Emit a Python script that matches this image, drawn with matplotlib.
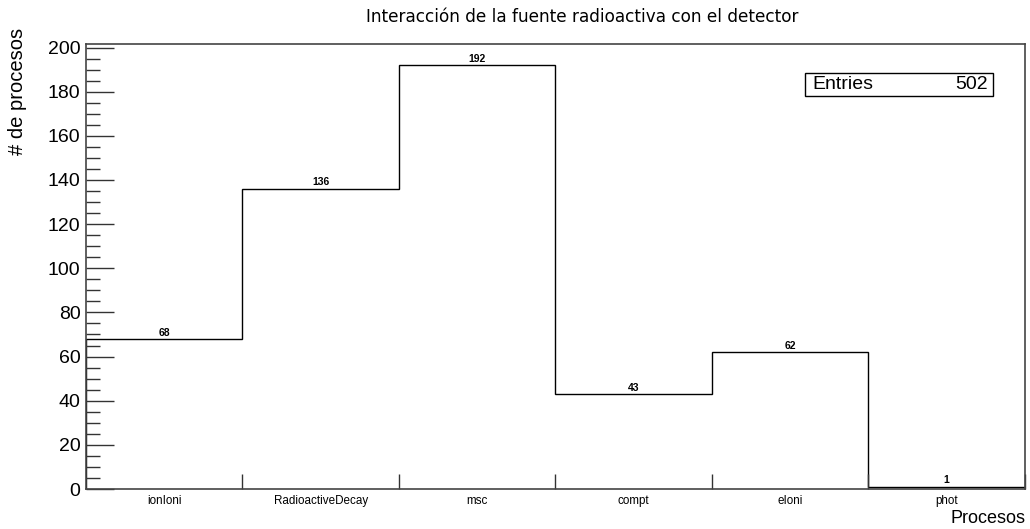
import matplotlib
matplotlib.use("Agg")
import matplotlib.pyplot as plt
import numpy as np
from matplotlib.ticker import MultipleLocator, FixedLocator

# ── Data ─────────────────────────────────────────────────────
PROCESSES = ["ionIoni", "RadioactiveDecay", "msc", "compt", "eIoni", "phot"]
COUNTS    = [68, 136, 192, 43, 62, 1]
ENTRIES   = 502

TITLE  = "Interacción de la fuente radioactiva con el detector"
XTITLE = "Procesos"
YTITLE = "# de procesos"

SANS = "Liberation Sans"

# ── Figure ───────────────────────────────────────────────────
fig = plt.figure(figsize=(10.30, 5.29), dpi=100, facecolor="white")
ax = fig.add_axes([0.0835, 0.0756, 0.9115, 0.8412])

edges = np.arange(len(COUNTS) + 1)
ax.stairs(COUNTS, edges, color="black", linewidth=1.0, baseline=0)

ax.set_xlim(0, len(COUNTS))
ax.set_ylim(0, max(COUNTS) * 1.05)

# bin content labels (ROOT "TEXT" style)
for i, c in enumerate(COUNTS):
    ax.text(i + 0.5, c + 0.6, f"{c}", ha="center", va="bottom",
            fontsize=7.5, fontweight="bold", family=SANS)

# y axis ticks, ROOT-style inward ticks
ax.yaxis.set_major_locator(MultipleLocator(20))
ax.yaxis.set_minor_locator(MultipleLocator(5))
ax.tick_params(axis="y", which="major", direction="in", length=20,
               width=1, labelsize=14, pad=4, color="#333333")
ax.tick_params(axis="y", which="minor", direction="in", length=10,
               width=1, color="#333333")
for lbl in ax.get_yticklabels():
    lbl.set_family(SANS)

# x axis: category labels at bin centres, ticks at bin edges
ax.set_xticks(edges[:-1] + 0.5)
ax.set_xticklabels(PROCESSES, fontsize=8.4, family=SANS)
ax.xaxis.set_minor_locator(FixedLocator(edges[1:]))
ax.tick_params(axis="x", which="major", length=0, pad=4)
ax.tick_params(axis="x", which="minor", direction="in", length=11,
               width=1, color="#333333")

for side in ["left", "bottom", "top", "right"]:
    ax.spines[side].set_color("#444444")
    ax.spines[side].set_linewidth(1.2)

# titles
fig.text(582 / 1030, 1 - 17 / 529, TITLE, ha="center", va="center",
         fontsize=12.2, family="DejaVu Sans")
fig.text(18 / 1030, 1 - 28 / 529, YTITLE, ha="center", va="top",
         rotation=90, fontsize=14.5, family=SANS)
fig.text(1025 / 1030, 1 - 527 / 529, XTITLE, ha="right", va="bottom",
         fontsize=13, family=SANS)

# stats box
box = plt.Rectangle((805 / 1030, 1 - 96 / 529), 188 / 1030, 23 / 529,
                    transform=fig.transFigure, fill=False,
                    edgecolor="black", linewidth=1.0)
fig.add_artist(box)
fig.text(812 / 1030, 1 - 84.5 / 529, "Entries", ha="left", va="center",
         fontsize=14, family=SANS)
fig.text(988 / 1030, 1 - 84.5 / 529, f"{ENTRIES}", ha="right", va="center",
         fontsize=14, family=SANS)

fig.savefig("out.png", dpi=100, facecolor="white")
